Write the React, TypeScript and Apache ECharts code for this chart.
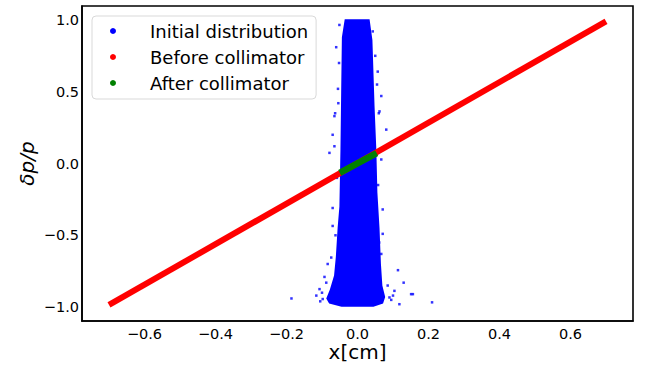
import React, { useEffect, useRef } from "react";
import * as echarts from "echarts";

// Tick values
const xTicks = [-0.6, -0.4, -0.2, 0.0, 0.2, 0.4, 0.6];
const yTicks = [-1.0, -0.5, 0.0, 0.5, 1.0];

// Initial distribution: outline of the dense cloud (x, δp/p)
const cloudX = [-0.036, -0.044, -0.046, -0.048, -0.051, -0.056, -0.061, -0.066, -0.078, -0.088, -0.08, -0.045,
  0.045, 0.072, 0.078, 0.07, 0.066, 0.062, 0.056, 0.053, 0.048, 0.042, 0.034];
const cloudY = [1.005, 0.88, 0.5, 0.1, -0.3, -0.45, -0.65, -0.78, -0.88, -0.94, -0.975, -0.997,
  -0.997, -0.975, -0.93, -0.85, -0.7, -0.45, -0.2, 0.1, 0.4, 0.86, 1.005];

// Initial distribution: scattered outlying particles
const outlierX = [-0.06, -0.051, -0.063, 0.067, 0.057, 0.043, 0.06, -0.055, -0.07, -0.065, -0.079, 0.081, 0.067,
  -0.07, 0.071, -0.065, 0.062, -0.07, -0.084, -0.074, -0.093, -0.116, -0.107, -0.098, 0.071, 0.114, 0.13, 0.151,
  0.156, 0.21, 0.104, 0.09, 0.118, 0.085, 0.067, -0.186, -0.105, -0.1, 0.095, 0.1, -0.088,
  -0.052, 0.05, -0.058, 0.058, -0.054, 0.055, 0.061, -0.062];
const outlierY = [0.81, 0.965, 0.35, 0.47, 0.64, 0.92, 0.35, 0.52, 0.2, 0.12, 0.074, 0.236, 0.028,
  -0.31, -0.32, 0.33, 0.363, -0.435, -0.7, -0.655, -0.79, -0.92, -0.875, -0.944, -0.49, -0.743, -0.83, -0.91,
  -0.91, -0.967, -0.887, -0.933, -0.98, -0.85, -0.63, -0.94, -0.96, -0.9, -0.95, -0.92, -0.83,
  0.7, 0.75, -0.1, -0.15, 0.42, 0.55, -0.55, -0.5];

// Before collimator: correlated band end points
const beforeX = [-0.70, 0.70];
const beforeY = [-0.985, 0.99];

// After collimator: surviving segment end points
const afterX = [-0.05, 0.054];
const afterY = [-0.066, 0.073];

const FONT = "DejaVu Sans";
const fmt = (v: number) => v.toFixed(1).replace("-", "\u2212");

export default function App() {
  const ref = useRef<HTMLDivElement>(null);
  useEffect(() => {
    document.body.style.margin = "0";
    const chart = echarts.init(ref.current!, null, { renderer: "svg" });
    chart.setOption({
      animation: false,
      backgroundColor: "#ffffff",
      grid: {
        left: 82, right: 16, top: 6, bottom: 44,
        outerBoundsMode: "none",
        containLabel: false,
        show: true, borderColor: "#000", borderWidth: 1.6, backgroundColor: "transparent",
      },
      legend: {
        orient: "vertical",
        left: 92, top: 16,
        padding: [5, 8, 6, 18],
        itemWidth: 40, itemHeight: 6,
        itemGap: 6,
        backgroundColor: "rgba(255,255,255,0.85)",
        borderColor: "#d9d9d9", borderWidth: 1, borderRadius: 4,
        textStyle: { fontFamily: FONT, fontSize: 18, color: "#000", lineHeight: 20, padding: [0, 0, 0, 12] },
        itemStyle: { borderWidth: 0 },
        data: [
          { name: "Initial distribution", icon: "circle", itemStyle: { color: "#0000ff" } },
          { name: "Before collimator", icon: "circle", itemStyle: { color: "#ff0000" } },
          { name: "After collimator", icon: "circle", itemStyle: { color: "#008000" } },
        ],
        selectedMode: false,
      },
      xAxis: {
        type: "value", min: -0.776, max: 0.776,
        name: "x[cm]", nameLocation: "middle", nameGap: 21, nameMoveOverlap: false,
        nameTextStyle: { fontFamily: FONT, fontSize: 20, lineHeight: 20, color: "#000" },
        axisLine: { show: true, onZero: false, lineStyle: { color: "#000", width: 1.6 } },
        axisTick: { show: false },
        splitLine: { show: false },
        axisLabel: {
          customValues: xTicks, formatter: fmt, margin: 5,
          fontFamily: FONT, fontSize: 14.5, lineHeight: 15, color: "#000",
        },
      },
      yAxis: {
        type: "value", min: -1.097, max: 1.097,
        name: "\u03b4p/p", nameLocation: "middle", nameGap: 45, nameRotate: 90, nameMoveOverlap: false,
        nameTextStyle: { fontFamily: FONT, fontSize: 20, fontStyle: "italic", color: "#000" },
        axisLine: { show: true, onZero: false, lineStyle: { color: "#000", width: 1.6 } },
        axisTick: { show: false },
        splitLine: { show: false },
        axisLabel: {
          customValues: yTicks, formatter: fmt, margin: 3,
          fontFamily: FONT, fontSize: 14.5, color: "#000",
        },
      },
      series: [
        {
          name: "Initial distribution",
          type: "custom",
          silent: true,
          data: [[0, 0]],
          renderItem: (params: any, api: any) => {
            if (params.dataIndex !== 0) return null;
            const pts = cloudX.map((x, i) => api.coord([x, cloudY[i]]));
            return { type: "polygon", shape: { points: pts }, style: { fill: "#0000ff" } };
          },
          z: 1,
        },
        {
          name: "Initial distribution",
          type: "scatter",
          silent: true,
          symbol: "rect",
          symbolSize: 2.5,
          itemStyle: { color: "#0000ff" },
          data: outlierX.map((x, i) => [x, outlierY[i]]),
          z: 1,
        },
        {
          name: "Before collimator",
          type: "line",
          silent: true,
          showSymbol: false,
          symbol: "none",
          lineStyle: { color: "#ff0000", width: 6, cap: "butt" },
          itemStyle: { color: "#ff0000" },
          data: beforeX.map((x, i) => [x, beforeY[i]]),
          z: 2,
        },
        {
          name: "After collimator",
          type: "line",
          silent: true,
          showSymbol: false,
          symbol: "none",
          lineStyle: { color: "#008000", width: 6.5, cap: "butt" },
          itemStyle: { color: "#008000" },
          data: afterX.map((x, i) => [x, afterY[i]]),
          z: 3,
        },
      ],
    });
    return () => chart.dispose();
  }, []);
  return <div ref={ref} style={{ position: "fixed", left: 0, top: 0, width: 649, height: 365 }} />;
}
